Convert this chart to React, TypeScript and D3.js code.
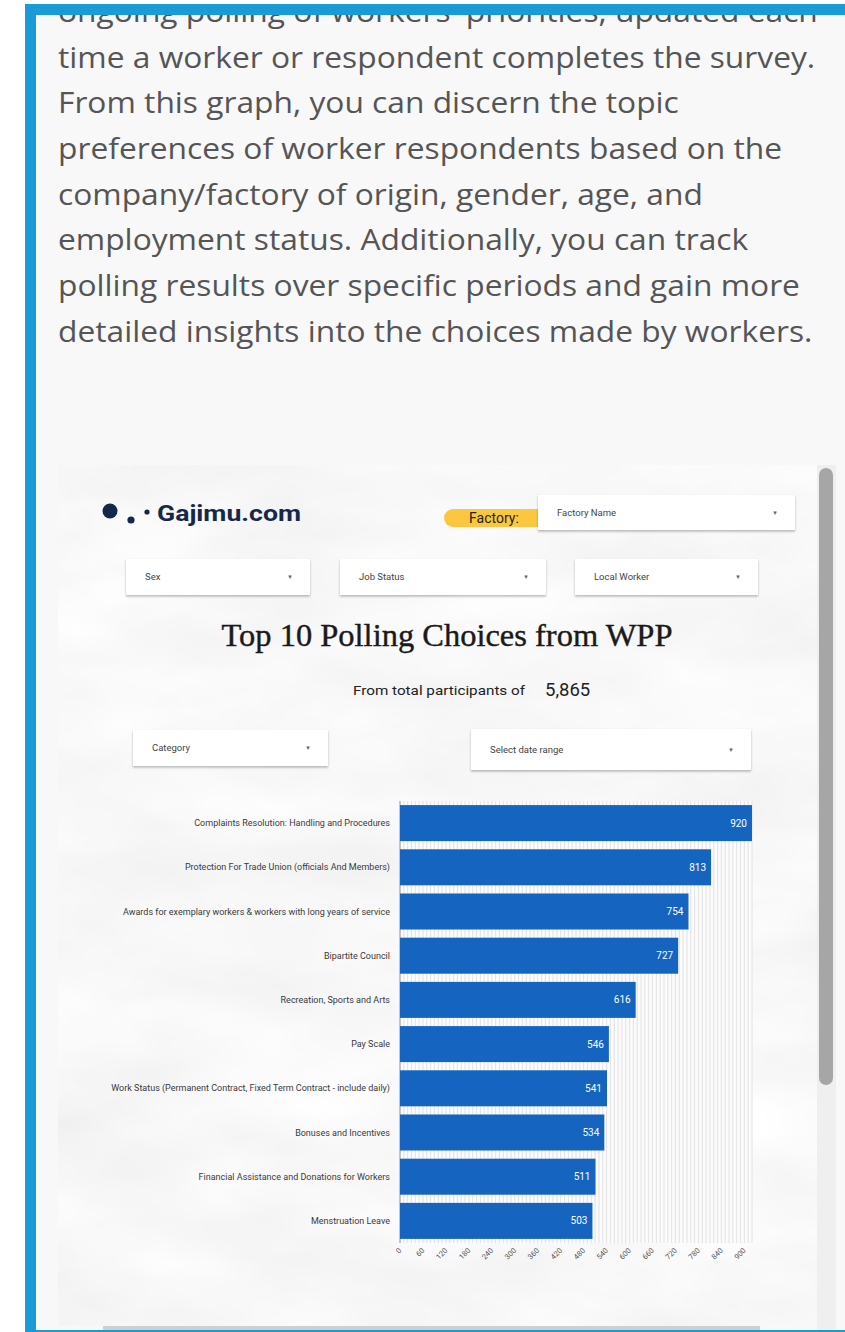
import React from 'react';
import * as d3 from 'd3';

// article text above the embedded dashboard
const paragraph = [
  "ongoing polling of workers' priorities, updated each",
  'time a worker or respondent completes the survey.',
  'From this graph, you can discern the topic',
  'preferences of worker respondents based on the',
  'company/factory of origin, gender, age, and',
  'employment status. Additionally, you can track',
  'polling results over specific periods and gain more',
  'detailed insights into the choices made by workers.',
];

const categories = [
  'Complaints Resolution: Handling and Procedures',
  'Protection For Trade Union (officials And Members)',
  'Awards for exemplary workers & workers with long years of service',
  'Bipartite Council',
  'Recreation, Sports and Arts',
  'Pay Scale',
  'Work Status (Permanent Contract, Fixed Term Contract - include daily)',
  'Bonuses and Incentives',
  'Financial Assistance and Donations for Workers',
  'Menstruation Leave',
];
const values = [920, 813, 754, 727, 616, 546, 541, 534, 511, 503];
const xTicks = [0, 60, 120, 180, 240, 300, 360, 420, 480, 540, 600, 660, 720, 780, 840, 900];
const totalParticipants = '5,865';

const BLUE = '#1b9ad8';
const BAR = '#1565c0';

function Dropdown({ x, y, w, h, label }: { x: number; y: number; w: number; h: number; label: string }) {
  return (
    <g>
      <rect x={x} y={y} width={w} height={h} fill="#fff" filter="url(#shadow)" />
      <text x={x + 19} y={y + h / 2} dy="0.35em" fontSize={9.5} fill="#444" fontFamily="Roboto, sans-serif">
        {label}
      </text>
      <text x={x + w - 20} y={y + h / 2} dy="0.35em" fontSize={7} fill="#666" textAnchor="middle" fontFamily="DejaVu Sans">
        ▾
      </text>
    </g>
  );
}

export default function App() {
  const W = 845;
  const H = 1332;
  const sx = 1.114; // the article text is horizontally stretched in the reference

  const x = d3.scaleLinear().domain([0, 920]).range([400, 752]);
  const y = d3
    .scaleBand<string>()
    .domain(categories)
    .range([801, 1243])
    .paddingInner(0.185)
    .paddingOuter(0.0925);
  const grid = x.ticks(92);
  const [y0, y1] = y.range();

  return (
    <svg width={W} height={H} style={{ position: 'absolute', left: 0, top: 0 }}>
      <defs>
        <filter id="marble" x="0" y="0" width="100%" height="100%">
          <feTurbulence type="fractalNoise" baseFrequency="0.005 0.012" numOctaves={4} seed={7} />
          <feColorMatrix
            type="matrix"
            values="0.16 0 0 0 0.86  0.16 0 0 0 0.86  0.16 0 0 0 0.86  0 0 0 0 1"
          />
        </filter>
        <filter id="shadow" x="-10%" y="-20%" width="120%" height="160%">
          <feDropShadow dx="0" dy="1.5" stdDeviation="1.2" floodColor="#000" floodOpacity="0.28" />
        </filter>
        <clipPath id="textClip">
          <rect x={36} y={15} width={W} height={450} />
        </clipPath>
      </defs>

      <rect width={W} height={H} fill="#fff" />
      <rect x={36} y={15} width={W - 36} height={H - 15} fill="#f8f8f8" />

      {/* article text */}
      <g clipPath="url(#textClip)">
        <g transform={`scale(${sx},1)`} fontFamily="'Open Sans', sans-serif" fontSize={28.5} fill="#555">
          {paragraph.map((line, i) => (
            <text key={i} x={58 / sx} y={22 + i * 45.7}>
              {line}
            </text>
          ))}
        </g>
      </g>

      {/* embedded dashboard */}
      <rect x={58} y={465} width={759} height={861} fill="#f2f2f2" filter="url(#marble)" />

      {/* logo */}
      <g fill="#16284a">
        <circle cx={110} cy={511} r={7.5} />
        <circle cx={131} cy={520} r={3.6} />
        <circle cx={147} cy={512} r={2.6} />
        <text x={157} y={521} fontSize={22} fontWeight={700} fontFamily="Roboto, sans-serif" textLength={144} lengthAdjust="spacingAndGlyphs">
          Gajimu.com
        </text>
      </g>

      {/* factory picker */}
      <rect x={444} y={509} width={110} height={18} rx={9} fill="#fbc740" />
      <text x={494} y={518} dy="0.36em" textAnchor="middle" fontSize={14} fill="#222" fontFamily="Roboto, sans-serif">
        Factory:
      </text>
      <Dropdown x={538} y={495} w={257} h={35} label="Factory Name" />
      <Dropdown x={126} y={559} w={184} h={36} label="Sex" />
      <Dropdown x={340} y={559} w={206} h={36} label="Job Status" />
      <Dropdown x={575} y={559} w={183} h={36} label="Local Worker" />

      {/* title */}
      <text
        x={447}
        y={646}
        textAnchor="middle"
        fontSize={32}
        fill="#1a1a1a"
        stroke="#1a1a1a"
        strokeWidth={0.4}
        fontFamily="'Liberation Serif', serif"
        textLength={451}
        lengthAdjust="spacingAndGlyphs"
      >
        Top 10 Polling Choices from WPP
      </text>
      <text x={353} y={695} fontSize={13} fill="#222" fontFamily="Roboto, sans-serif" textLength={172} lengthAdjust="spacingAndGlyphs">
        From total participants of
      </text>
      <text x={545} y={696} fontSize={18.5} fill="#222" fontFamily="Roboto, sans-serif">
        {totalParticipants}
      </text>

      <Dropdown x={133} y={730} w={195} h={36} label="Category" />
      <Dropdown x={471} y={729} w={280} h={41} label="Select date range" />

      {/* chart */}
      <rect x={x(0)} y={y0} width={x(920) - x(0)} height={y1 - y0} fill="#fbfbfb" />
      <g stroke="#dcdcdc" strokeWidth={0.8}>
        {grid.map((t) => (
          <line key={t} x1={x(t)} x2={x(t)} y1={y0} y2={y1} />
        ))}
      </g>
      <line x1={x(0)} x2={x(0)} y1={y0} y2={y1} stroke="#9a9a9a" strokeWidth={1} />

      <g>
        {categories.map((c, i) => (
          <g key={c}>
            <rect x={x(0)} y={y(c)} width={x(values[i]) - x(0)} height={y.bandwidth()} fill={BAR} />
            <text
              x={x(values[i]) - 5}
              y={(y(c) as number) + y.bandwidth() / 2}
              dy="0.35em"
              textAnchor="end"
              fontSize={10}
              fill="#fff"
              fontFamily="Roboto, sans-serif"
            >
              {values[i]}
            </text>
            <text
              x={390}
              y={(y(c) as number) + y.bandwidth() / 2}
              dy="0.35em"
              textAnchor="end"
              fontSize={9}
              fill="#3a3a3a"
              fontFamily="Roboto, sans-serif"
            >
              {c}
            </text>
          </g>
        ))}
      </g>

      <g fontSize={7.5} fill="#555" fontFamily="Roboto, sans-serif">
        {xTicks.map((t) => (
          <text key={t} transform={`translate(${x(t) + 2},${y1 + 8}) rotate(-45)`} textAnchor="end">
            {t}
          </text>
        ))}
      </g>

      {/* scrollbars */}
      <rect x={817} y={465} width={19} height={H - 465} fill="#efefef" />
      <rect x={819} y={468} width={14} height={617} rx={7} fill="#a6a6a6" />
      <rect x={103} y={1326} width={657} height={4} fill="#cfcfcf" />

      {/* blue frame */}
      <rect x={25} y={4} width={W - 25} height={11} fill={BLUE} />
      <rect x={25} y={4} width={11} height={H - 4} fill={BLUE} />
      <rect x={25} y={1330} width={W - 25} height={2} fill={BLUE} />
    </svg>
  );
}
